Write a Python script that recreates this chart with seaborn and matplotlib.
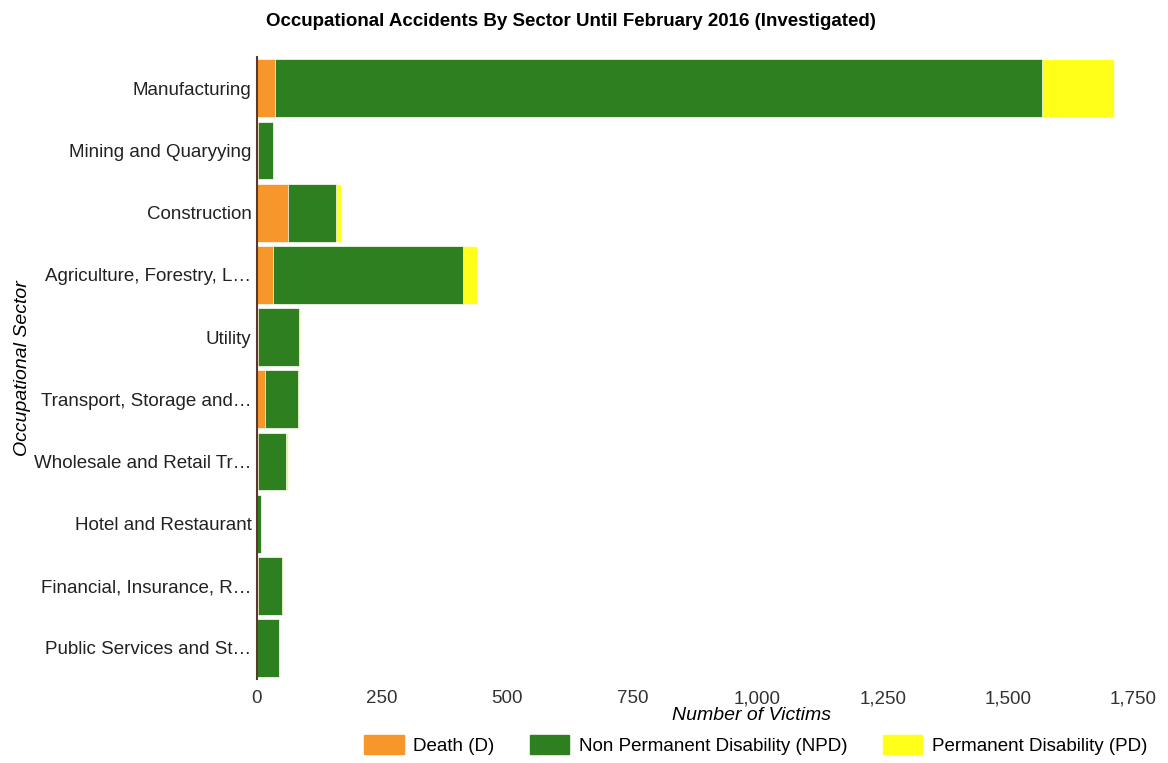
import matplotlib
matplotlib.use("Agg")
import matplotlib.pyplot as plt
from matplotlib.patches import Patch
import seaborn as sns
import pandas as pd

# Sector names as displayed (truncated like the original)
sectors = ["Manufacturing", "Mining and Quaryying", "Construction",
           "Agriculture, Forestry, L…", "Utility", "Transport, Storage and…",
           "Wholesale and Retail Tr…", "Hotel and Restaurant",
           "Financial, Insurance, R…", "Public Services and St…"]

# Values
death = [36, 2, 62, 32, 2, 16, 2, 0, 2, 1]
npd = [1532, 30, 96, 380, 82, 66, 56, 8, 48, 43]
pd_ = [144, 0, 10, 28, 2, 2, 4, 0, 2, 0]

df = pd.DataFrame({"sector": sectors, "D": death, "NPD": npd, "PD": pd_})
df["D_NPD"] = df["D"] + df["NPD"]
df["total"] = df["D_NPD"] + df["PD"]

c_d = "#F7962B"
c_npd = "#2E7F1F"
c_pd = "#FFFF1A"

plt.rcParams["font.family"] = ["Liberation Sans", "DejaVu Sans"]

fig = plt.figure(figsize=(11.68, 7.63), dpi=100)
ax = fig.add_axes([0.22, 0.11, 0.75, 0.815])

# stacked bars drawn as layered cumulative totals
for col, c in [("total", c_pd), ("D_NPD", c_npd), ("D", c_d)]:
    sns.barplot(data=df, x=col, y="sector", color=c, orient="h", saturation=1,
                width=0.93, edgecolor="white", linewidth=0.5, ax=ax)

ax.set_xlim(0, 1750)
ax.set_xticks([0, 250, 500, 750, 1000, 1250, 1500, 1750])
ax.set_xticklabels(["0", "250", "500", "750", "1,000", "1,250", "1,500", "1,750"])
ax.tick_params(axis="x", length=0, labelsize=13.5, colors="#333333", pad=8)
ax.tick_params(axis="y", length=0, labelsize=13.5, colors="#222222", pad=4)

for s in ["top", "right", "bottom"]:
    ax.spines[s].set_visible(False)
ax.spines["left"].set_color("#5a3a2a")
ax.spines["left"].set_linewidth(1.5)

ax.set_xlabel("Number of Victims", fontsize=14, style="italic")
ax.xaxis.set_label_coords(0.564, -0.045)
ax.set_ylabel("Occupational Sector", fontsize=14, style="italic")
ax.yaxis.set_label_coords(-0.258, 0.5)

fig.text(0.489, 0.972, "Occupational Accidents By Sector Until February 2016 (Investigated)",
         ha="center", va="center", fontsize=13.5, fontweight="bold")

handles = [Patch(color=c_d, label="Death (D)"),
           Patch(color=c_npd, label="Non Permanent Disability (NPD)"),
           Patch(color=c_pd, label="Permanent Disability (PD)")]
fig.legend(handles=handles, loc="center", bbox_to_anchor=(0.647, 0.024), ncol=3,
           frameon=False, fontsize=13.5, handlelength=2.1, handleheight=1.2,
           columnspacing=1.9, handletextpad=0.5)

fig.savefig("out.png", dpi=100)
